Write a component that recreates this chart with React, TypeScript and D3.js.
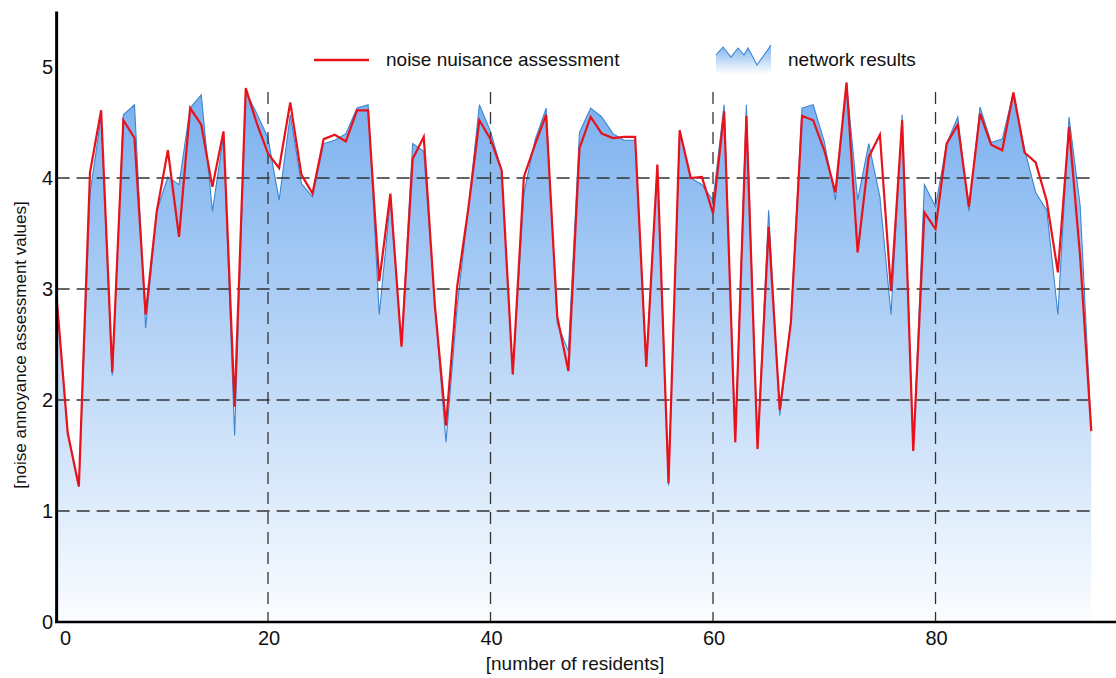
import React, { useEffect, useRef } from 'react';
import * as d3 from 'd3';

// residents 1..94
const residents: number[] = d3.range(1, 95);

const noiseAssessment: number[] = [
  2.92, 1.70, 1.22, 4.05, 4.61, 2.25, 4.52, 4.36, 2.77, 3.70,
  4.25, 3.47, 4.63, 4.48, 3.92, 4.42, 1.94, 4.81, 4.49, 4.22,
  4.09, 4.68, 4.03, 3.86, 4.35, 4.39, 4.33, 4.61, 4.61, 3.07,
  3.86, 2.48, 4.17, 4.37, 2.85, 1.77, 3.02, 3.72, 4.52, 4.35,
  4.07, 2.23, 4.01, 4.30, 4.57, 2.75, 2.26, 4.27, 4.55, 4.40,
  4.36, 4.37, 4.37, 2.30, 4.12, 1.25, 4.43, 4.00, 4.01, 3.68,
  4.60, 1.62, 4.56, 1.56, 3.56, 1.91, 2.70, 4.56, 4.52, 4.25,
  3.87, 4.86, 3.33, 4.19, 4.39, 2.98, 4.52, 1.54, 3.69, 3.54,
  4.31, 4.48, 3.74, 4.58, 4.30, 4.25, 4.77, 4.23, 4.14, 3.79,
  3.15, 4.46, 3.29, 1.72,
];

const networkResults: number[] = [
  2.92, 1.70, 1.22, 3.86, 4.55, 2.22, 4.57, 4.66, 2.65, 3.70,
  4.01, 3.94, 4.63, 4.75, 3.70, 4.38, 1.68, 4.78, 4.58, 4.36,
  3.80, 4.57, 3.95, 3.83, 4.31, 4.34, 4.40, 4.63, 4.66, 2.77,
  3.80, 2.50, 4.31, 4.24, 2.85, 1.62, 2.84, 3.72, 4.66, 4.42,
  4.07, 2.23, 3.86, 4.34, 4.63, 2.69, 2.44, 4.41, 4.63, 4.55,
  4.40, 4.34, 4.34, 2.30, 4.12, 1.23, 4.43, 4.00, 3.94, 3.80,
  4.66, 1.62, 4.66, 1.56, 3.71, 1.86, 2.72, 4.63, 4.66, 4.33,
  3.80, 4.86, 3.80, 4.31, 3.83, 2.77, 4.57, 1.54, 3.94, 3.74,
  4.31, 4.55, 3.70, 4.64, 4.32, 4.35, 4.77, 4.26, 3.87, 3.71,
  2.77, 4.55, 3.75, 1.72,
];

const yTicks: number[] = [0, 1, 2, 3, 4, 5];
const yGrid: number[] = [1, 2, 3, 4];
const xTicks: number[] = [20, 40, 60, 80];

const FONT = '"Liberation Sans", Arial, sans-serif';

const App = () => {
  const svgRef = useRef<SVGSVGElement>(null);

  useEffect(() => {
    document.body.style.margin = '0';
    const svg = d3.select(svgRef.current);
    svg.selectAll('*').remove();

    const width = 1116, height = 678;
    svg.attr('width', width).attr('height', height);

    const x = d3.scaleLinear().domain([0, 95]).range([45.5, 1102.4]);
    const y = d3.scaleLinear().domain([0, 5.5]).range([622, 11.5]);
    const x0 = x(1);

    const defs = svg.append('defs');
    const grad = defs.append('linearGradient')
      .attr('id', 'areaGrad')
      .attr('gradientUnits', 'userSpaceOnUse')
      .attr('x1', 0).attr('x2', 0)
      .attr('y1', y(5)).attr('y2', y(0));
    grad.append('stop').attr('offset', '0%').attr('stop-color', '#74acee');
    grad.append('stop').attr('offset', '100%').attr('stop-color', '#fbfdff');

    const legGrad = defs.append('linearGradient')
      .attr('id', 'legGrad')
      .attr('x1', 0).attr('x2', 0).attr('y1', 0).attr('y2', 1);
    legGrad.append('stop').attr('offset', '0%').attr('stop-color', '#7cb2ee');
    legGrad.append('stop').attr('offset', '100%').attr('stop-color', '#ffffff');

    // network results area
    const area = d3.area<number>()
      .x((d, i) => x(residents[i]))
      .y0(y(0))
      .y1(d => y(d));
    svg.append('path')
      .datum(networkResults)
      .attr('d', area)
      .attr('fill', 'url(#areaGrad)');

    const blueLine = d3.line<number>()
      .x((d, i) => x(residents[i]))
      .y(d => y(d));
    svg.append('path')
      .datum(networkResults)
      .attr('d', blueLine)
      .attr('fill', 'none')
      .attr('stroke', '#3b86cf')
      .attr('stroke-width', 1.1);

    // grid
    svg.append('g')
      .selectAll('line')
      .data(yGrid)
      .enter()
      .append('line')
      .attr('x1', x0).attr('x2', x(94.2))
      .attr('y1', d => y(d)).attr('y2', d => y(d))
      .attr('stroke', '#333')
      .attr('stroke-width', 1.3)
      .attr('stroke-dasharray', '13,7');

    svg.append('g')
      .selectAll('line')
      .data(xTicks)
      .enter()
      .append('line')
      .attr('x1', d => x(d)).attr('x2', d => x(d))
      .attr('y1', 92).attr('y2', y(0))
      .attr('stroke', '#333')
      .attr('stroke-width', 1.3)
      .attr('stroke-dasharray', '12,8');

    // noise nuisance assessment line
    const redLine = d3.line<number>()
      .x((d, i) => x(residents[i]))
      .y(d => y(d));
    svg.append('path')
      .datum(noiseAssessment)
      .attr('d', redLine)
      .attr('fill', 'none')
      .attr('stroke', '#e8121b')
      .attr('stroke-width', 2.2)
      .attr('stroke-linejoin', 'miter');

    // axes
    svg.append('line')
      .attr('x1', x0).attr('x2', x0)
      .attr('y1', y(5.5)).attr('y2', y(0) + 1)
      .attr('stroke', '#000').attr('stroke-width', 3);
    svg.append('line')
      .attr('x1', x0 - 1.5).attr('x2', width)
      .attr('y1', y(0)).attr('y2', y(0))
      .attr('stroke', '#000').attr('stroke-width', 2.5);

    svg.append('g')
      .selectAll('text')
      .data(yTicks)
      .enter()
      .append('text')
      .attr('x', 53)
      .attr('y', d => y(d))
      .attr('dy', '0.36em')
      .attr('text-anchor', 'end')
      .attr('font-family', FONT)
      .attr('font-size', 20)
      .attr('fill', '#111')
      .text(d => d);

    svg.append('g')
      .selectAll('text')
      .data(xTicks)
      .enter()
      .append('text')
      .attr('x', d => x(d) + 1)
      .attr('y', 645)
      .attr('text-anchor', 'middle')
      .attr('font-family', FONT)
      .attr('font-size', 20)
      .attr('fill', '#111')
      .text(d => d);
    svg.append('text')
      .attr('x', x0 + 9)
      .attr('y', 645)
      .attr('text-anchor', 'middle')
      .attr('font-family', FONT)
      .attr('font-size', 20)
      .attr('fill', '#111')
      .text('0');

    svg.append('text')
      .attr('x', 575)
      .attr('y', 670)
      .attr('text-anchor', 'middle')
      .attr('font-family', FONT)
      .attr('font-size', 19)
      .attr('fill', '#111')
      .text('[number of residents]');

    svg.append('text')
      .attr('transform', 'translate(26,345) rotate(-90)')
      .attr('text-anchor', 'middle')
      .attr('font-family', FONT)
      .attr('font-size', 17)
      .attr('fill', '#111')
      .text('[noise annoyance assessment values]');

    // legend
    const leg = svg.append('g');
    leg.append('line')
      .attr('x1', 314).attr('x2', 369)
      .attr('y1', 60).attr('y2', 60)
      .attr('stroke', '#e8121b').attr('stroke-width', 2.4);
    leg.append('text')
      .attr('x', 386).attr('y', 66)
      .attr('font-family', FONT).attr('font-size', 19).attr('fill', '#111')
      .text('noise nuisance assessment');

    const zig: [number, number][] = [
      [716, 55], [723, 47], [731, 57], [738, 48], [744, 55],
      [748, 48], [757, 65], [771, 45],
    ];
    const zigArea = [[716, 74], ...zig, [771, 74]] as [number, number][];
    leg.append('path')
      .attr('d', d3.line()(zigArea) + 'Z')
      .attr('fill', 'url(#legGrad)');
    leg.append('path')
      .attr('d', d3.line()(zig))
      .attr('fill', 'none')
      .attr('stroke', '#3b86cf')
      .attr('stroke-width', 1.1);
    leg.append('text')
      .attr('x', 788).attr('y', 66)
      .attr('font-family', FONT).attr('font-size', 19).attr('fill', '#111')
      .text('network results');
  }, []);

  return (
    <div style={{ width: '1116px', height: '678px', background: '#fff' }}>
      <svg ref={svgRef} style={{ display: 'block' }}></svg>
    </div>
  );
};

export default App;
